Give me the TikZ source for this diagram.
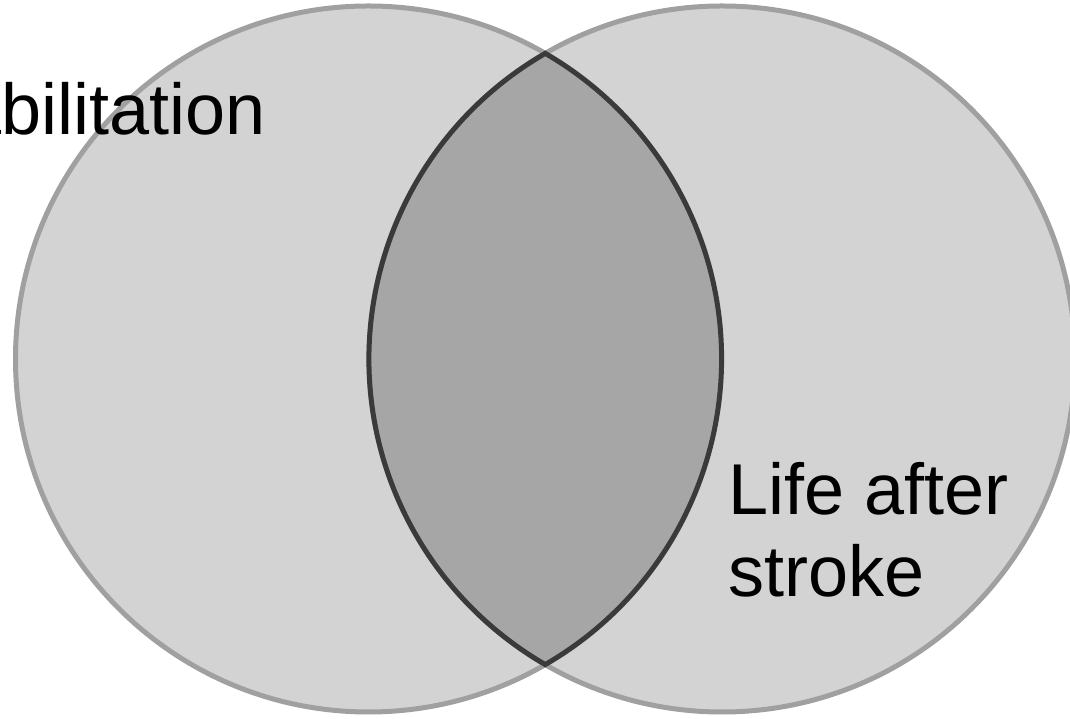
\documentclass[tikz,border=0pt]{standalone}
\usepackage{fontspec}
\setmainfont{Liberation Sans}
\definecolor{setfill}{HTML}{D3D3D3}
\definecolor{setline}{HTML}{A0A0A0}
\definecolor{lensfill}{HTML}{A6A6A6}
\definecolor{lensline}{HTML}{3A3A3A}
\tikzset{
  setcircle/.style={circle, draw=setline, fill=setfill, line width=5pt, inner sep=0pt, minimum size=706pt},
  lens/.style={draw=lensline, fill=lensfill, line width=5pt, line join=miter},
  biglabel/.style={font=\fontsize{72}{82}\selectfont, text=black, inner sep=0pt, align=left}
}
\begin{document}
\begin{tikzpicture}[x=1pt,y=1pt]
\useasboundingbox (0,0) rectangle (1070,719);
\clip (0,0) rectangle (1070,719);
\node[setcircle] (L) at (368.5,360) {};
\node[setcircle] (R) at (722,360) {};
\coordinate (top) at (545.25,665.6);
\draw[lens] (top) arc[start angle=120.04, end angle=239.96, radius=353]
  arc[start angle=-59.96, end angle=59.96, radius=353] -- cycle;
\node[biglabel, anchor=base east] (rehab) at (266,584) {Rehabilitation};
\node[biglabel, anchor=base west] (life) at (728,122) {Life after\\stroke};
\end{tikzpicture}
\end{document}
